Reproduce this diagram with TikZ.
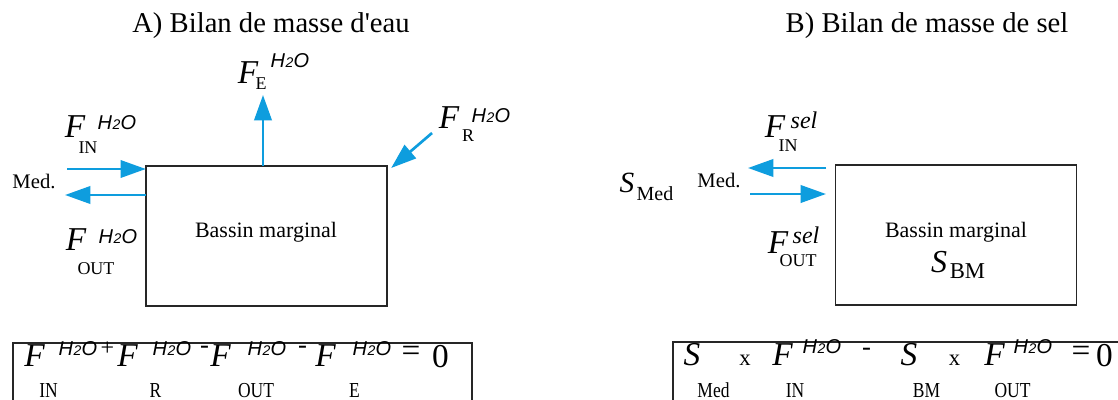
\documentclass[tikz,border=0pt]{standalone}
\usepackage{fontspec}
\setmainfont{Liberation Serif}
\newfontfamily\hsans{Liberation Sans}
\newfontfamily\cond{Liberation Serif}[FakeStretch=0.82]
\usetikzlibrary{arrows.meta,calc}
\definecolor{flowblue}{RGB}{14,157,222}
\newcommand\fsz[1]{\fontsize{#1}{#1}\selectfont}
\newcommand\htwoo{{\hsans\itshape\fsz{15}H\kern0.3pt\raisebox{-0.6pt}{\fsz{10.5}2}\kern0.3pt O}}
\newcommand\straightquote{\XeTeXglyph\XeTeXcharglyph"0027\relax}
\begin{document}
\begin{tikzpicture}[x=0.75pt,y=-0.75pt,
  every node/.style={inner sep=0pt,outer sep=0pt},
  title/.style={font=\fsz{21.5},anchor=base},
  bigF/.style={font=\fsz{25}\itshape,anchor=base},
  bigS/.style={font=\fsz{22}\itshape,anchor=base},
  sub/.style={font=\fsz{13.5},anchor=base},
  eqsub/.style={font=\cond\fsz{16},anchor=base},
  supw/.style={anchor=base},
  selsup/.style={font=\fsz{18}\itshape,anchor=base},
  lbl/.style={font=\fsz{16.5},anchor=base},
  medlbl/.style={font=\fsz{15.5},anchor=base},
  op/.style={font=\fsz{25},anchor=center},
  basin/.style={draw=black!85,line width=1.1pt,minimum width=181pt,minimum height=105pt},
  flow/.style={draw=flowblue,line width=2pt,-{Triangle[length=19pt,width=13pt]}},
  eqframe/.style={draw=black!85,line width=1.5pt}]
\useasboundingbox (0,0) rectangle (1118,400);
\fill[white] (0,0) rectangle (1118,400);
\clip (0,0) rectangle (1118,400);

% titles
\node[title] (titleA) at (271,32) {A) Bilan de masse d\straightquote eau};
\node[title] (titleB) at (927,32) {B) Bilan de masse de sel};

% ---------------- A ----------------
\node[basin] (boxA) at (266.5,236) {};
\node[lbl] (txtA) at (266,237) {Bassin marginal};

\coordinate (inAs) at (67,169);
\coordinate (outAe) at (65,195);
\coordinate (eAe) at (263,95);
\coordinate (rAs) at (432,133);
\draw[flow] (inAs) -- (inAs -| boxA.west);
\draw[flow] (boxA.west |- outAe) -- (outAe);
\draw[flow] (boxA.north -| eAe) -- (eAe);
\draw[flow] (rAs) -- ([shift={(4,2)}]boxA.north east);

\node[medlbl] (medA) at (34,188) {Med.};
% F_IN
\node[bigF] (fInA) at (75,137) {F};
\node[supw] (hInA) at (117,129) {\htwoo};
\node[sub] (sInA) at (88,153) {IN};
% F_OUT
\node[bigF] (fOutA) at (76,250) {F};
\node[supw] (hOutA) at (118,243) {\htwoo};
\node[sub] (sOutA) at (96,274) {OUT};
% F_E
\node[bigF] (fEA) at (248,83) {F};
\node[sub] (sEA) at (261,89) {E};
\node[supw] (hEA) at (290,67) {\htwoo};
% F_R
\node[bigF] (fRA) at (449,128) {F};
\node[sub] (sRA) at (468,141) {R};
\node[supw] (hRA) at (491,122) {\htwoo};

% equation A
\draw[eqframe] (13,404) -- (13,343) -- (472,343) -- (472,404);
\node[bigF] (e1F) at (34.5,366) {F};
\node[supw] (e1H) at (78,355) {\htwoo};
\node[eqsub] (e1S) at (48.5,397) {IN};
\node[font=\fsz{18}] (e1p) at (107.5,349) {+};
\node[bigF] (e2F) at (127.5,366) {F};
\node[supw] (e2H) at (172,355) {\htwoo};
\node[eqsub] (e2S) at (155.5,397) {R};
\node[font=\fsz{20}] (e2m) at (204.5,350) {-};
\node[bigF] (e3F) at (220.5,366) {F};
\node[supw] (e3H) at (267,355) {\htwoo};
\node[eqsub] (e3S) at (256,397) {OUT};
\node[font=\fsz{20}] (e3m) at (302.5,350) {-};
\node[bigF] (e4F) at (325.5,366) {F};
\node[supw] (e4H) at (372,355) {\htwoo};
\node[eqsub] (e4S) at (354.5,397) {E};
\node[op] (eqA) at (411,354) {=};
\node[font=\fsz{25},anchor=base] (zeroA) at (440.5,367) {0};

% ---------------- B ----------------
\node[basin] (boxB) at (956,235) {};
\node[lbl] (txtB) at (956,237) {Bassin marginal};
\node[font=\fsz{24}\itshape,anchor=base] (sBM) at (939,272) {S};
\node[font=\fsz{17},anchor=base] (sBMs) at (967.5,278) {BM};

\coordinate (inBe) at (748,168);
\coordinate (outBs) at (750,194);
\draw[flow] ([xshift=-7]boxB.west |- inBe) -- (inBe);
\draw[flow] (outBs) -- ([xshift=-7]boxB.west |- outBs);

\node[bigS] (sMed) at (627,192) {S};
\node[font=\fsz{15},anchor=base] (sMedS) at (655,200) {Med};
\node[medlbl] (medB) at (719,187) {Med.};
% F_IN^sel
\node[bigF] (fInB) at (775,137) {F};
\node[selsup] (selInB) at (804,128) {sel};
\node[sub] (sInB) at (788,151) {IN};
% F_OUT^sel
\node[bigF] (fOutB) at (778,253) {F};
\node[selsup] (selOutB) at (806,243) {sel};
\node[sub] (sOutB) at (798,266) {OUT};

% equation B
\draw[eqframe] (673,404) -- (673,342) -- (1125,342);
\node[font=\fsz{25}\itshape,anchor=base] (b1S) at (692,365) {S};
\node[eqsub] (b1s) at (713.5,397) {Med};
\node[font=\fsz{17},anchor=base] (b1x) at (745,365) {x};
\node[bigF] (b2F) at (782.5,365) {F};
\node[supw] (b2H) at (822,353) {\htwoo};
\node[eqsub] (b2s) at (795,397) {IN};
\node[font=\fsz{20}] (bm) at (866.5,352) {-};
\node[font=\fsz{25}\itshape,anchor=base] (b3S) at (909,365) {S};
\node[eqsub] (b3s) at (926.5,397) {BM};
\node[font=\fsz{17},anchor=base] (b3x) at (954.5,365) {x};
\node[bigF] (b4F) at (994.5,365) {F};
\node[supw] (b4H) at (1033,353) {\htwoo};
\node[eqsub] (b4s) at (1012.5,397) {OUT};
\node[op] (eqB) at (1081,354) {=};
\node[font=\fsz{25},anchor=base] (zeroB) at (1104.5,366) {0};
\end{tikzpicture}
\end{document}
